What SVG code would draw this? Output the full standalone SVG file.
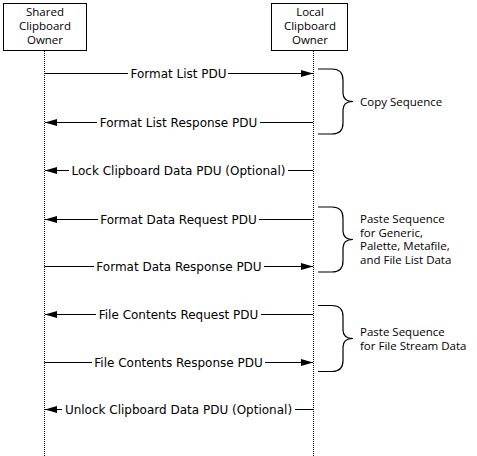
<svg xmlns="http://www.w3.org/2000/svg" width="477" height="456" viewBox="0 0 477 456">
<style>
  .box{fill:#fff;stroke:#000;stroke-width:1}
  .life{stroke:#000;stroke-width:1;stroke-dasharray:1,1;fill:none}
  .msg{stroke:#000;stroke-width:1;fill:none}
  .brace{stroke:#000;stroke-width:1.2;fill:none}
  .lbl{font-family:"DejaVu Sans",Verdana,sans-serif;font-size:12px;fill:#000;text-anchor:middle}
  .nt{font-family:"Open Sans","Liberation Sans",sans-serif;font-size:11.5px;fill:#000;text-anchor:middle}
  .note{font-family:"Open Sans","Liberation Sans",sans-serif;font-size:11.5px;fill:#000}
</style>
<defs>
  <marker id="ah" markerUnits="userSpaceOnUse" markerWidth="12" markerHeight="8" refX="12" refY="3.5" orient="auto">
    <path d="M0,0 L12,3.5 L0,7 z" fill="#000"/>
  </marker>
</defs>
<rect width="477" height="456" fill="#fff"/>
<g id="shared">
  <rect class="box" x="3.5" y="3.5" width="83" height="47"/>
  <text class="nt" x="45" y="16">Shared</text>
  <text class="nt" x="45" y="30">Clipboard</text>
  <text class="nt" x="45" y="44">Owner</text>
</g>
<g id="local">
  <rect class="box" x="271.5" y="3.5" width="76" height="47"/>
  <text class="nt" x="310" y="16">Local</text>
  <text class="nt" x="310" y="30">Clipboard</text>
  <text class="nt" x="310" y="44">Owner</text>
</g>
<g id="lifelines">
  <line class="life" x1="44.5" y1="51" x2="44.5" y2="456"/>
  <line class="life" x1="313.5" y1="51" x2="313.5" y2="456"/>
</g>
<g id="connectors">
  <line class="msg" x1="44.5" y1="73.5" x2="128" y2="73.5"/>
  <line class="msg" x1="228" y1="73.5" x2="313" y2="73.5" marker-end="url(#ah)"/>
  <text class="lbl" x="178.5" y="78">Format List PDU</text>

  <line class="msg" x1="313" y1="122.5" x2="260" y2="122.5"/>
  <line class="msg" x1="97" y1="122.5" x2="45" y2="122.5" marker-end="url(#ah)"/>
  <text class="lbl" x="178.5" y="127">Format List Response PDU</text>

  <line class="msg" x1="313" y1="170.5" x2="288" y2="170.5"/>
  <line class="msg" x1="69" y1="170.5" x2="45" y2="170.5" marker-end="url(#ah)"/>
  <text class="lbl" x="178.5" y="175">Lock Clipboard Data PDU (Optional)</text>

  <line class="msg" x1="313" y1="219.5" x2="259" y2="219.5"/>
  <line class="msg" x1="98" y1="219.5" x2="45" y2="219.5" marker-end="url(#ah)"/>
  <text class="lbl" x="178.5" y="224">Format Data Request PDU</text>

  <line class="msg" x1="44.5" y1="266.5" x2="94" y2="266.5"/>
  <line class="msg" x1="264" y1="266.5" x2="313" y2="266.5" marker-end="url(#ah)"/>
  <text class="lbl" x="179" y="271">Format Data Response PDU</text>

  <line class="msg" x1="313" y1="314.5" x2="261" y2="314.5"/>
  <line class="msg" x1="96" y1="314.5" x2="45" y2="314.5" marker-end="url(#ah)"/>
  <text class="lbl" x="178.5" y="319">File Contents Request PDU</text>

  <line class="msg" x1="44.5" y1="362.5" x2="92" y2="362.5"/>
  <line class="msg" x1="265" y1="362.5" x2="313" y2="362.5" marker-end="url(#ah)"/>
  <text class="lbl" x="178.5" y="367">File Contents Response PDU</text>

  <line class="msg" x1="313" y1="409.5" x2="295" y2="409.5"/>
  <line class="msg" x1="62" y1="409.5" x2="45" y2="409.5" marker-end="url(#ah)"/>
  <text class="lbl" x="178.5" y="414">Unlock Clipboard Data PDU (Optional)</text>
</g>
<g id="copy-sequence">
  <path class="brace" d="M318,69 H332 Q343,69 343,80 V93 Q343,101.5 353,101.5 Q343,101.5 343,110 V123 Q343,134 332,134 H318"/>
  <text class="note" x="360" y="105.5">Copy Sequence</text>
</g>
<g id="paste-sequence-generic">
  <path class="brace" d="M318,207 H332 Q343,207 343,218 V231 Q343,239.5 353,239.5 Q343,239.5 343,248 V261 Q343,272 332,272 H318"/>
  <text class="note" x="360" y="223">Paste Sequence</text>
  <text class="note" x="360" y="236.5">for Generic,</text>
  <text class="note" x="360" y="250">Palette, Metafile,</text>
  <text class="note" x="360" y="263.5">and File List Data</text>
</g>
<g id="paste-sequence-stream">
  <path class="brace" d="M318,305.5 H332 Q343,305.5 343,316.5 V330 Q343,338.5 353,338.5 Q343,338.5 343,347 V360.5 Q343,371.5 332,371.5 H318"/>
  <text class="note" x="360" y="336">Paste Sequence</text>
  <text class="note" x="360" y="349.5">for File Stream Data</text>
</g>
</svg>
